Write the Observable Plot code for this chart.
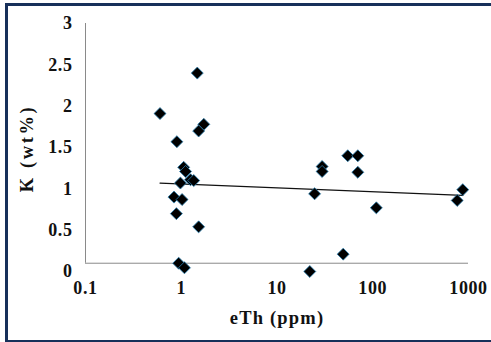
<!DOCTYPE html>
<html>
<head>
<meta charset="utf-8">
<script src="https://cdn.jsdelivr.net/npm/d3@7"></script>
<script src="https://cdn.jsdelivr.net/npm/@observablehq/plot@0.6"></script>
<style>
  html, body { margin: 0; padding: 0; background: #fff; overflow: hidden; width: 491px; height: 342px; }
  #wrap { position: relative; width: 491px; height: 342px; overflow: hidden; }
  #border { position: absolute; left: 5px; top: 3px; width: 520px; height: 340px; box-sizing: border-box; border: 3px solid #17305a; pointer-events: none; }
  #chart { position: absolute; left: 0; top: 0; }
</style>
</head>
<body>
<div id="wrap"><div id="chart"></div><div id="border"></div></div>
<script>
// eTh (ppm) and K (wt%) values
const eTh = [1.47, 0.60, 1.72, 1.52, 0.90, 1.06, 1.11, 0.98, 1.25, 1.35, 0.84, 1.02, 0.89, 1.52, 0.94, 1.08,
             29.6, 29.6, 54.8, 69.8, 69.8, 24.7, 109, 49.1, 22.0, 871, 762];
const K   = [2.40, 1.91, 1.78, 1.70, 1.57, 1.26, 1.21, 1.07, 1.11, 1.10, 0.90, 0.87, 0.70, 0.54, 0.10, 0.045,
             1.27, 1.21, 1.40, 1.40, 1.20, 0.94, 0.77, 0.21, 0.00, 0.99, 0.86];
// trend line endpoints (logarithmic trendline, straight on log axis)
const trendX = [0.6, 871];
const trendY = [1.07, 0.92];
// tick labels
const xTicks = [0.1, 1, 10, 100, 1000];
const yTicks = [0, 0.5, 1, 1.5, 2, 2.5, 3];

const points = eTh.map((x, i) => ({x, y: K[i]}));
const trend = trendX.map((x, i) => ({x, y: trendY[i]}));

const font = "'Liberation Serif', 'Times New Roman', serif";

const plot = Plot.plot({
  width: 491,
  height: 342,
  marginLeft: 85,
  marginRight: 23,
  marginTop: 23,
  marginBottom: 71,
  style: { fontFamily: font, background: "transparent" },
  x: { type: "log", domain: [0.1, 1000] },
  y: { domain: [0, 3] },
  marks: [
    // axis lines
    Plot.ruleX([0.1], { y1: 0.1, y2: 3, stroke: "#8a8a8a", strokeWidth: 1 }),
    Plot.ruleY([0.1], { x1: 0.1, x2: 1000, stroke: "#8a8a8a", strokeWidth: 1 }),
    // tick labels
    Plot.axisY(yTicks, { tickSize: 0, tickPadding: 13, fontSize: 18, fontWeight: "bold", fill: "#111", label: null, tickFormat: d => String(d), className: "ticklbl" }),
    Plot.axisX(xTicks, { tickSize: 0, tickPadding: 10, fontSize: 18, fontWeight: "bold", fill: "#111", label: null, tickFormat: d => String(d), className: "ticklbl" }),
    // trend line
    Plot.line(trend, { x: "x", y: "y", stroke: "#111", strokeWidth: 1.2 }),
    // points
    Plot.dot(points, { x: "x", y: "y", symbol: "diamond2", r: 5.4, fill: "#000", stroke: "#2a7fb0", strokeWidth: 0.8 }),
    // axis titles
    Plot.text(["eTh (ppm)"], { frameAnchor: "bottom", textAnchor: "middle", dy: 52, fontSize: 18.5, fontWeight: "bold", fill: "#111", className: "xtitle" }),
    Plot.text(["K (wt%)"], { frameAnchor: "left", textAnchor: "middle", dx: -58, dy: 1, rotate: -90, fontSize: 18.5, fontWeight: "bold", fill: "#111", className: "ytitle" })
  ]
});
d3.select(plot).selectAll(".xtitle text").attr("letter-spacing", "1.2px");
d3.select(plot).selectAll(".ytitle text").attr("letter-spacing", "2.6px");
d3.select(plot).selectAll(".ticklbl text").attr("letter-spacing", "0.6px");
document.getElementById("chart").appendChild(plot);
</script>
</body>
</html>
